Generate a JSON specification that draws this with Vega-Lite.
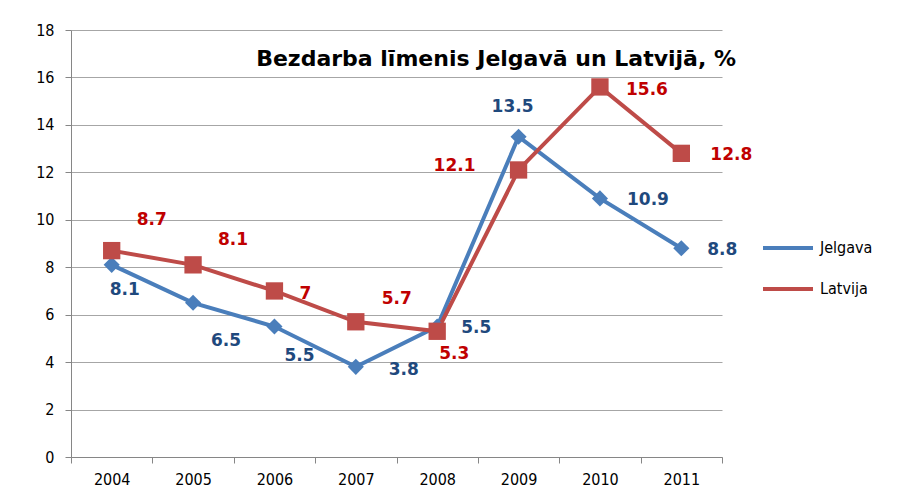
{
  "$schema": "https://vega.github.io/schema/vega-lite/v6.json",
  "width": 651,
  "height": 427,
  "padding": {"left": 35, "top": 22, "right": 5, "bottom": 5},
  "title": {
    "text": "Bezdarba līmenis Jelgavā un Latvijā, %",
    "orient": "top",
    "anchor": "end",
    "frame": "group",
    "offset": -49,
    "dx": 14,
    "font": "DejaVu Sans",
    "fontSize": 22,
    "fontWeight": "bold",
    "color": "#000000"
  },
  "data": {
    "values": [
      {"year": "2004", "series": "Jelgava", "value": 8.1},
      {"year": "2005", "series": "Jelgava", "value": 6.5},
      {"year": "2006", "series": "Jelgava", "value": 5.5},
      {"year": "2007", "series": "Jelgava", "value": 3.8},
      {"year": "2008", "series": "Jelgava", "value": 5.5},
      {"year": "2009", "series": "Jelgava", "value": 13.5},
      {"year": "2010", "series": "Jelgava", "value": 10.9},
      {"year": "2011", "series": "Jelgava", "value": 8.8},
      {"year": "2004", "series": "Latvija", "value": 8.7},
      {"year": "2005", "series": "Latvija", "value": 8.1},
      {"year": "2006", "series": "Latvija", "value": 7},
      {"year": "2007", "series": "Latvija", "value": 5.7},
      {"year": "2008", "series": "Latvija", "value": 5.3},
      {"year": "2009", "series": "Latvija", "value": 12.1},
      {"year": "2010", "series": "Latvija", "value": 15.6},
      {"year": "2011", "series": "Latvija", "value": 12.8}
    ]
  },
  "encoding": {
    "x": {
      "field": "year",
      "type": "ordinal",
      "scale": {"type": "band", "paddingInner": 0, "paddingOuter": 0},
      "axis": {
        "title": null,
        "labelAngle": 0,
        "tickBand": "extent",
        "tickSize": 6,
        "domainColor": "#868686",
        "tickColor": "#868686",
        "labelFont": "DejaVu Sans Condensed, DejaVu Sans",
        "labelFontSize": 16,
        "labelColor": "#000000",
        "labelPadding": 8,
        "grid": false
      }
    },
    "y": {
      "field": "value",
      "type": "quantitative",
      "scale": {"domain": [0, 18], "nice": false},
      "axis": {
        "title": null,
        "values": [0, 2, 4, 6, 8, 10, 12, 14, 16, 18],
        "grid": true,
        "gridColor": "#a6a6a6",
        "domainColor": "#868686",
        "tickColor": "#868686",
        "tickSize": 6,
        "labelPadding": 11,
        "labelFont": "DejaVu Sans Condensed, DejaVu Sans",
        "labelFontSize": 16,
        "labelColor": "#000000"
      }
    }
  },
  "layer": [
    {
      "mark": {"type": "line", "strokeWidth": 4},
      "encoding": {
        "color": {
          "field": "series",
          "type": "nominal",
          "scale": {"domain": ["Jelgava", "Latvija"], "range": ["#4A7EBB", "#BE4B48"]},
          "legend": {
            "title": null,
            "orient": "none",
            "legendX": 690,
            "legendY": 191,
            "symbolType": "stroke",
            "symbolSize": 2500,
            "symbolStrokeWidth": 4,
            "rowPadding": 6,
            "labelOffset": 5,
            "labelFont": "DejaVu Sans Condensed, DejaVu Sans",
            "labelFontSize": 16,
            "labelColor": "#000000"
          }
        }
      }
    },
    {
      "transform": [{"filter": "datum.series == 'Jelgava'"}],
      "mark": {"type": "point", "shape": "diamond", "filled": true, "opacity": 1, "size": 260, "color": "#4A7EBB"}
    },
    {
      "transform": [{"filter": "datum.series == 'Latvija'"}],
      "mark": {"type": "point", "shape": "square", "filled": true, "opacity": 1, "size": 300, "color": "#BE4B48"}
    },
    {"transform": [{"filter": "datum.series == 'Jelgava' && datum.year == '2004'"}], "mark": {"type": "text", "font": "DejaVu Sans", "fontSize": 17, "fontWeight": "bold", "color": "#1F497D", "dx": 13, "dy": 25}, "encoding": {"text": {"field": "value"}}},
    {"transform": [{"filter": "datum.series == 'Jelgava' && datum.year == '2005'"}], "mark": {"type": "text", "font": "DejaVu Sans", "fontSize": 17, "fontWeight": "bold", "color": "#1F497D", "dx": 33, "dy": 38}, "encoding": {"text": {"field": "value"}}},
    {"transform": [{"filter": "datum.series == 'Jelgava' && datum.year == '2006'"}], "mark": {"type": "text", "font": "DejaVu Sans", "fontSize": 17, "fontWeight": "bold", "color": "#1F497D", "dx": 25, "dy": 29}, "encoding": {"text": {"field": "value"}}},
    {"transform": [{"filter": "datum.series == 'Jelgava' && datum.year == '2007'"}], "mark": {"type": "text", "font": "DejaVu Sans", "fontSize": 17, "fontWeight": "bold", "color": "#1F497D", "dx": 48, "dy": 3}, "encoding": {"text": {"field": "value"}}},
    {"transform": [{"filter": "datum.series == 'Jelgava' && datum.year == '2008'"}], "mark": {"type": "text", "font": "DejaVu Sans", "fontSize": 17, "fontWeight": "bold", "color": "#1F497D", "dx": 39, "dy": 1}, "encoding": {"text": {"field": "value"}}},
    {"transform": [{"filter": "datum.series == 'Jelgava' && datum.year == '2009'"}], "mark": {"type": "text", "font": "DejaVu Sans", "fontSize": 17, "fontWeight": "bold", "color": "#1F497D", "dx": -6, "dy": -30}, "encoding": {"text": {"field": "value"}}},
    {"transform": [{"filter": "datum.series == 'Jelgava' && datum.year == '2010'"}], "mark": {"type": "text", "font": "DejaVu Sans", "fontSize": 17, "fontWeight": "bold", "color": "#1F497D", "dx": 48, "dy": 2}, "encoding": {"text": {"field": "value"}}},
    {"transform": [{"filter": "datum.series == 'Jelgava' && datum.year == '2011'"}], "mark": {"type": "text", "font": "DejaVu Sans", "fontSize": 17, "fontWeight": "bold", "color": "#1F497D", "dx": 41, "dy": 2}, "encoding": {"text": {"field": "value"}}},
    {"transform": [{"filter": "datum.series == 'Latvija' && datum.year == '2004'"}], "mark": {"type": "text", "font": "DejaVu Sans", "fontSize": 17, "fontWeight": "bold", "color": "#C00000", "dx": 40, "dy": -31}, "encoding": {"text": {"field": "value"}}},
    {"transform": [{"filter": "datum.series == 'Latvija' && datum.year == '2005'"}], "mark": {"type": "text", "font": "DejaVu Sans", "fontSize": 17, "fontWeight": "bold", "color": "#C00000", "dx": 40, "dy": -25}, "encoding": {"text": {"field": "value"}}},
    {"transform": [{"filter": "datum.series == 'Latvija' && datum.year == '2006'"}], "mark": {"type": "text", "font": "DejaVu Sans", "fontSize": 17, "fontWeight": "bold", "color": "#C00000", "dx": 31, "dy": 3}, "encoding": {"text": {"field": "value"}}},
    {"transform": [{"filter": "datum.series == 'Latvija' && datum.year == '2007'"}], "mark": {"type": "text", "font": "DejaVu Sans", "fontSize": 17, "fontWeight": "bold", "color": "#C00000", "dx": 41, "dy": -23}, "encoding": {"text": {"field": "value"}}},
    {"transform": [{"filter": "datum.series == 'Latvija' && datum.year == '2008'"}], "mark": {"type": "text", "font": "DejaVu Sans", "fontSize": 17, "fontWeight": "bold", "color": "#C00000", "dx": 17, "dy": 23}, "encoding": {"text": {"field": "value"}}},
    {"transform": [{"filter": "datum.series == 'Latvija' && datum.year == '2009'"}], "mark": {"type": "text", "font": "DejaVu Sans", "fontSize": 17, "fontWeight": "bold", "color": "#C00000", "dx": -64, "dy": -4}, "encoding": {"text": {"field": "value"}}},
    {"transform": [{"filter": "datum.series == 'Latvija' && datum.year == '2010'"}], "mark": {"type": "text", "font": "DejaVu Sans", "fontSize": 17, "fontWeight": "bold", "color": "#C00000", "dx": 47, "dy": 3}, "encoding": {"text": {"field": "value"}}},
    {"transform": [{"filter": "datum.series == 'Latvija' && datum.year == '2011'"}], "mark": {"type": "text", "font": "DejaVu Sans", "fontSize": 17, "fontWeight": "bold", "color": "#C00000", "dx": 50, "dy": 2}, "encoding": {"text": {"field": "value"}}}
  ],
  "config": {
    "font": "DejaVu Sans",
    "view": {"stroke": null}
  }
}
